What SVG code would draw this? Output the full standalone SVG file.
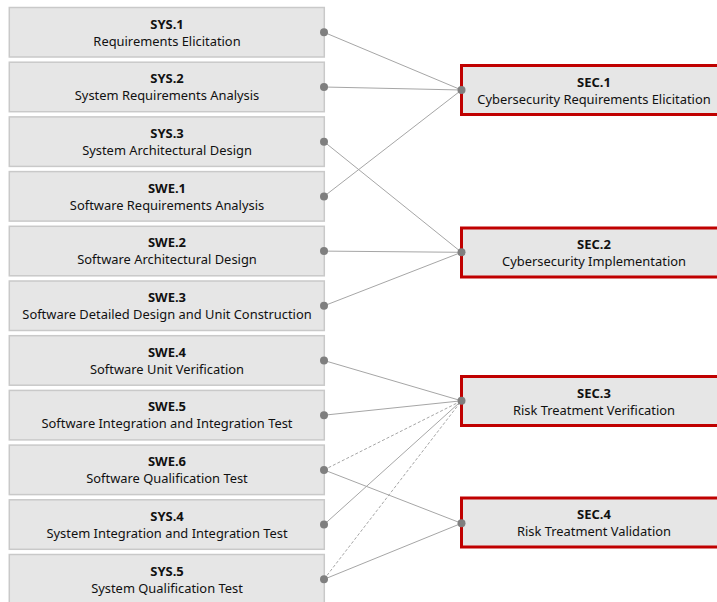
<svg xmlns="http://www.w3.org/2000/svg" width="717" height="602" viewBox="0 0 717 602">
<style>
.box{fill:#e6e6e6;stroke:#c9c9c9;stroke-width:1.5}
.sec{fill:#e6e6e6;stroke:#c00000;stroke-width:3}
.t{font-family:"Noto Sans","Open Sans",sans-serif;font-size:13px;font-weight:bold;fill:#111;text-anchor:middle}
.s{font-family:"Noto Sans","Open Sans",sans-serif;font-size:12.9px;fill:#111;text-anchor:middle}
.c{stroke:#a6a6a6;stroke-width:1;fill:none}
.d{stroke:#a6a6a6;stroke-width:1;fill:none;stroke-dasharray:3,2}
.dot{fill:#7f7f7f}
</style>
<rect width="717" height="602" fill="#ffffff"/>
<g id="connectors">
<line class="c" x1="324" y1="32.3" x2="461.5" y2="90"/>
<line class="c" x1="324" y1="87" x2="461.5" y2="90"/>
<line class="c" x1="324" y1="196.4" x2="461.5" y2="90"/>
<line class="c" x1="324" y1="141.7" x2="461.5" y2="252.3"/>
<line class="c" x1="324" y1="251.1" x2="461.5" y2="252.3"/>
<line class="c" x1="324" y1="305.8" x2="461.5" y2="252.3"/>
<line class="c" x1="324" y1="360.5" x2="461.5" y2="400.8"/>
<line class="c" x1="324" y1="415.2" x2="461.5" y2="400.8"/>
<line class="d" x1="324" y1="469.9" x2="461.5" y2="400.8"/>
<line class="c" x1="324" y1="469.9" x2="461.5" y2="523.3"/>
<line class="c" x1="324" y1="524.6" x2="461.5" y2="400.8"/>
<line class="d" x1="324" y1="579.3" x2="461.5" y2="400.8"/>
<line class="c" x1="324" y1="579.3" x2="461.5" y2="523.3"/>
</g>
<g id="sys1"><rect class="box" x="9.3" y="7.5" width="315" height="49.5"/><text class="t" x="167" y="28.5">SYS.1</text><text class="s" x="167" y="45.5">Requirements Elicitation</text><circle class="dot" cx="324" cy="32.3" r="4"/></g>
<g id="sys2"><rect class="box" x="9.3" y="62.2" width="315" height="49.5"/><text class="t" x="167" y="83.2">SYS.2</text><text class="s" x="167" y="100.2">System Requirements Analysis</text><circle class="dot" cx="324" cy="87" r="4"/></g>
<g id="sys3"><rect class="box" x="9.3" y="116.9" width="315" height="49.5"/><text class="t" x="167" y="137.9">SYS.3</text><text class="s" x="167" y="154.9">System Architectural Design</text><circle class="dot" cx="324" cy="141.7" r="4"/></g>
<g id="swe1"><rect class="box" x="9.3" y="171.6" width="315" height="49.5"/><text class="t" x="167" y="192.6">SWE.1</text><text class="s" x="167" y="209.6">Software Requirements Analysis</text><circle class="dot" cx="324" cy="196.4" r="4"/></g>
<g id="swe2"><rect class="box" x="9.3" y="226.3" width="315" height="49.5"/><text class="t" x="167" y="247.3">SWE.2</text><text class="s" x="167" y="264.3">Software Architectural Design</text><circle class="dot" cx="324" cy="251.1" r="4"/></g>
<g id="swe3"><rect class="box" x="9.3" y="281" width="315" height="49.5"/><text class="t" x="167" y="302">SWE.3</text><text class="s" x="167" y="319">Software Detailed Design and Unit Construction</text><circle class="dot" cx="324" cy="305.8" r="4"/></g>
<g id="swe4"><rect class="box" x="9.3" y="335.7" width="315" height="49.5"/><text class="t" x="167" y="356.7">SWE.4</text><text class="s" x="167" y="373.7">Software Unit Verification</text><circle class="dot" cx="324" cy="360.5" r="4"/></g>
<g id="swe5"><rect class="box" x="9.3" y="390.4" width="315" height="49.5"/><text class="t" x="167" y="411.4">SWE.5</text><text class="s" x="167" y="428.4">Software Integration and Integration Test</text><circle class="dot" cx="324" cy="415.2" r="4"/></g>
<g id="swe6"><rect class="box" x="9.3" y="445.1" width="315" height="49.5"/><text class="t" x="167" y="466.1">SWE.6</text><text class="s" x="167" y="483.1">Software Qualification Test</text><circle class="dot" cx="324" cy="469.9" r="4"/></g>
<g id="sys4"><rect class="box" x="9.3" y="499.8" width="315" height="49.5"/><text class="t" x="167" y="520.8">SYS.4</text><text class="s" x="167" y="537.8">System Integration and Integration Test</text><circle class="dot" cx="324" cy="524.6" r="4"/></g>
<g id="sys5"><rect class="box" x="9.3" y="554.5" width="315" height="49.5"/><text class="t" x="167" y="575.5">SYS.5</text><text class="s" x="167" y="592.5">System Qualification Test</text><circle class="dot" cx="324" cy="579.3" r="4"/></g>
<g id="sec1"><rect class="sec" x="461.5" y="65.5" width="266" height="49"/><text class="t" x="594" y="86.5">SEC.1</text><text class="s" x="594" y="103.5">Cybersecurity Requirements Elicitation</text><circle class="dot" cx="461.5" cy="90" r="4"/></g>
<g id="sec2"><rect class="sec" x="461.5" y="228" width="266" height="49"/><text class="t" x="594" y="249">SEC.2</text><text class="s" x="594" y="266">Cybersecurity Implementation</text><circle class="dot" cx="461.5" cy="252.3" r="4"/></g>
<g id="sec3"><rect class="sec" x="461.5" y="376.5" width="266" height="49"/><text class="t" x="594" y="397.5">SEC.3</text><text class="s" x="594" y="414.5">Risk Treatment Verification</text><circle class="dot" cx="461.5" cy="400.8" r="4"/></g>
<g id="sec4"><rect class="sec" x="461.5" y="498" width="266" height="49"/><text class="t" x="594" y="519">SEC.4</text><text class="s" x="594" y="536">Risk Treatment Validation</text><circle class="dot" cx="461.5" cy="523.3" r="4"/></g>
</svg>
